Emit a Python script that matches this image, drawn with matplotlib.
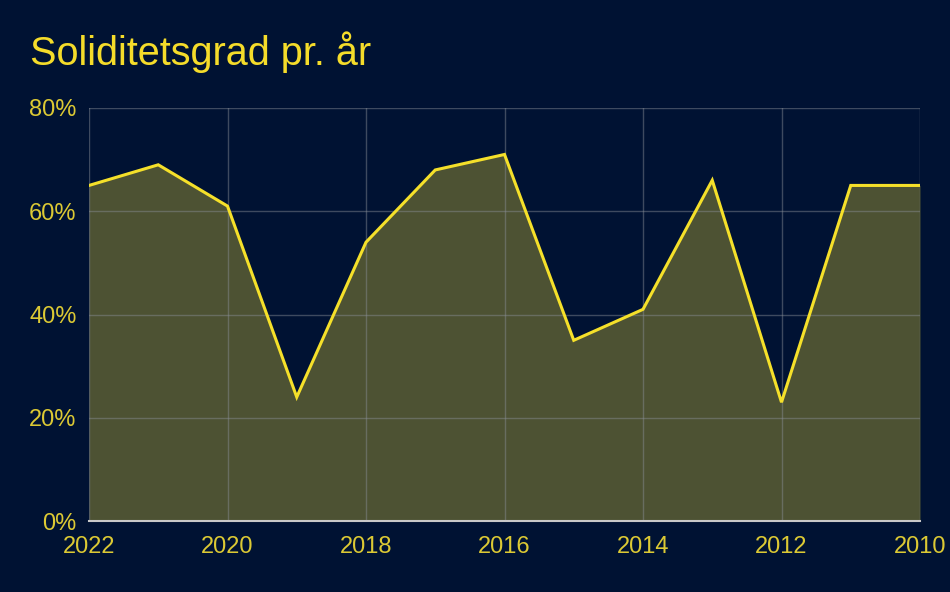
import matplotlib
matplotlib.use("Agg")
import matplotlib.pyplot as plt
from matplotlib.ticker import FuncFormatter

years = [2022, 2021, 2020, 2019, 2018, 2017, 2016, 2015, 2014, 2013, 2012, 2011, 2010]
values = [65, 69, 61, 24, 54, 68, 71, 35, 41, 66, 23, 65, 65]
xticks = [2022, 2020, 2018, 2016, 2014, 2012, 2010]
yticks = [0, 20, 40, 60, 80]
title = "Soliditetsgrad pr. år"

bg = "#001233"
plt.rcParams['font.family'] = ['Liberation Sans', 'DejaVu Sans']

fig = plt.figure(figsize=(9.5, 5.92), dpi=100, facecolor=bg)
ax = fig.add_axes([89/950, 71/592, 831/950, 413/592], facecolor=bg)

ax.fill_between(years, values, 0, color="#4d5233", zorder=2, linewidth=0)
ax.plot(years, values, color="#f5e02a", linewidth=2.2, zorder=3, solid_joinstyle="miter")

ax.set_xlim(2022, 2010)
ax.set_ylim(0, 80)
ax.set_xticks(xticks)
ax.set_yticks(yticks)
ax.yaxis.set_major_formatter(FuncFormatter(lambda v, p: f"{int(v)}%"))
ax.grid(True, color="#8a8f99", alpha=0.45, linewidth=1, zorder=2.5)
ax.set_axisbelow(False)
for s in ["top", "right", "left"]:
    ax.spines[s].set_visible(False)
ax.spines["bottom"].set_color("#c8c8c8")
ax.spines["bottom"].set_linewidth(1.5)
ax.spines["bottom"].set_zorder(4)
ax.tick_params(axis="both", length=0, labelsize=17, labelcolor="#dcc934")
ax.tick_params(axis="x", pad=11)
ax.tick_params(axis="y", pad=9)

fig.text(30/950, 1 - 52/592, title, color="#f5dc2a", fontsize=28.5, va="center", ha="left")

fig.savefig("out.png", dpi=100, facecolor=bg)
